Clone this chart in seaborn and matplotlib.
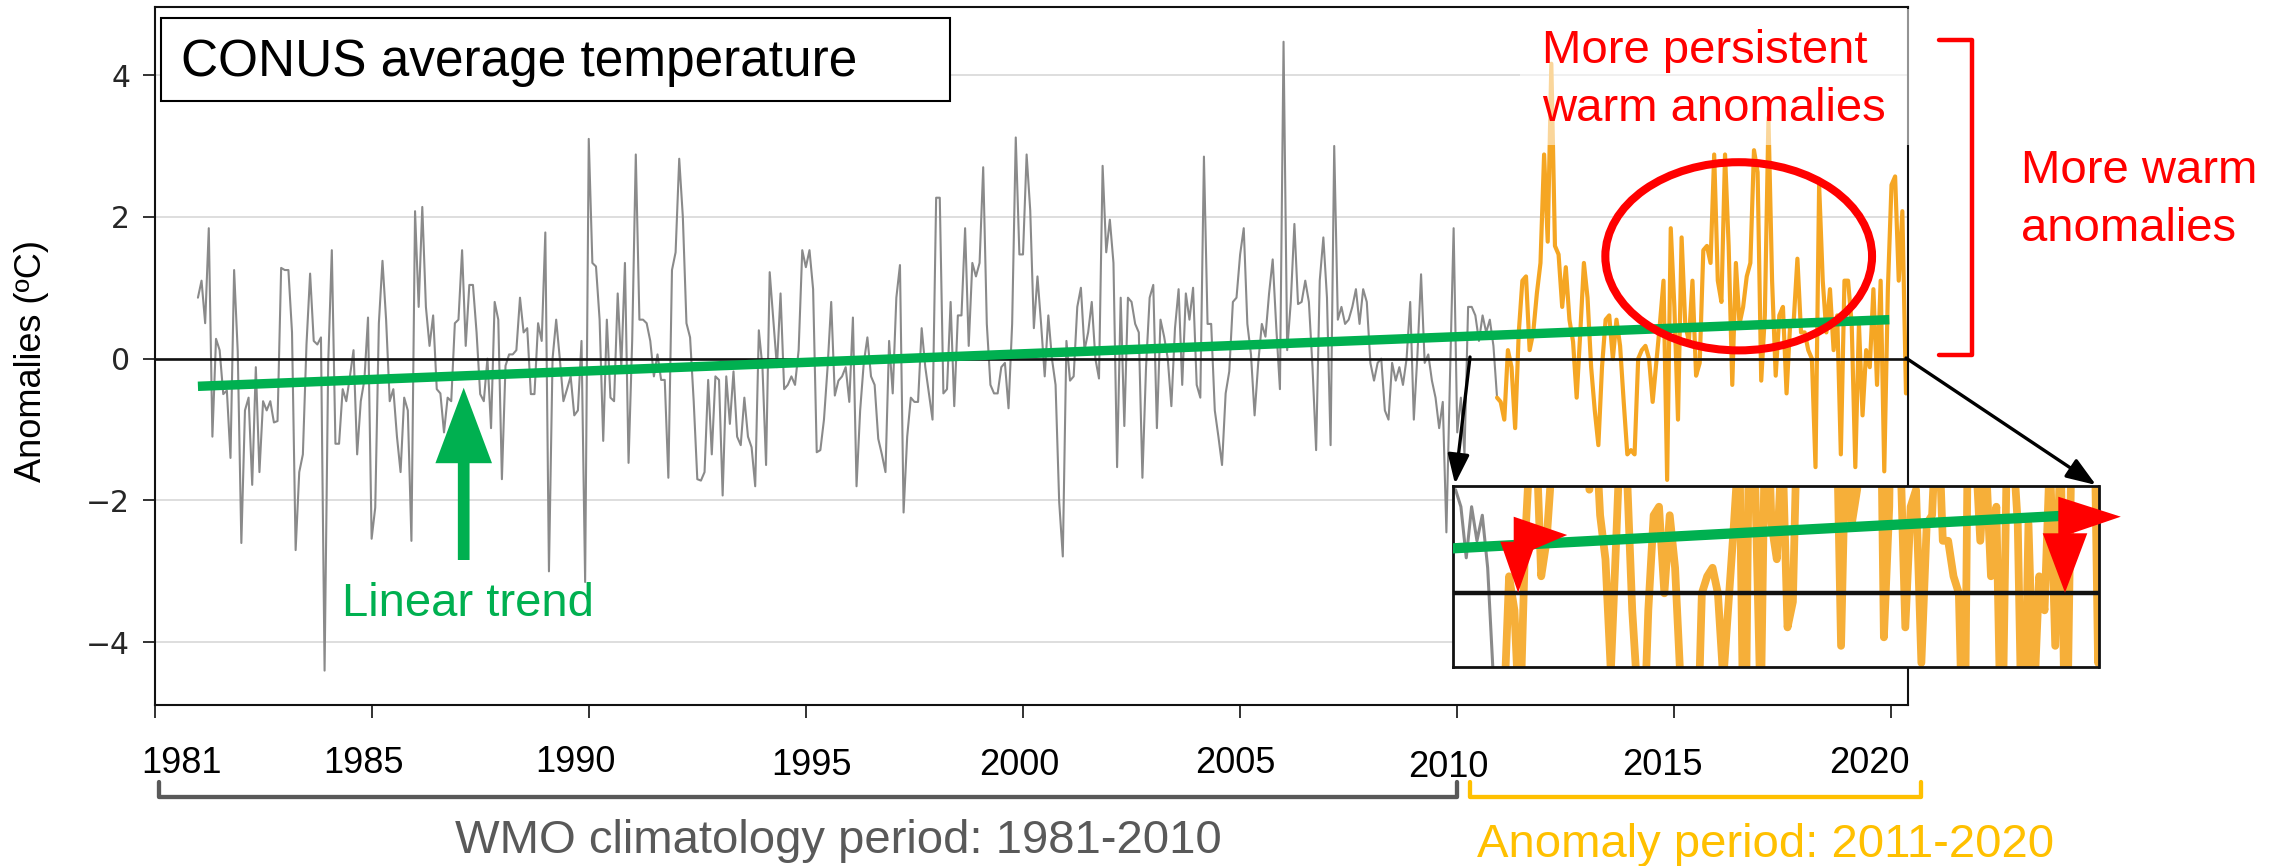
import numpy as np
import seaborn as sns
import matplotlib.pyplot as plt
from matplotlib.patches import Rectangle, Ellipse, Polygon, FancyArrow, FancyArrowPatch, ArrowStyle
from matplotlib.lines import Line2D
from matplotlib.transforms import Affine2D

# monthly CONUS temperature anomalies (degC)
# climatology period, Jan 1981 - Dec 2010
clim_vals = [
    0.86, 1.10, 0.50, 1.84, -1.10, 0.28, 0.12, -0.50, -0.45, -1.40, 1.25, 0.10,
    -2.60, -0.73, -0.55, -1.78, -0.12, -1.60, -0.60, -0.73, -0.60, -0.90, -0.88, 1.28,
    1.25, 1.25, 0.37, -2.70, -1.60, -1.35, 0.20, 1.20, 0.25, 0.20, 0.30, -4.40,
    -0.06, 1.53, -1.20, -1.20, -0.43, -0.60, -0.25, 0.12, -1.35, -0.60, -0.30, 0.58,
    -2.54, -2.10, 0.50, 1.38, 0.55, -0.60, -0.43, -1.10, -1.60, -0.55, -0.73, -2.57,
    2.08, 0.73, 2.14, 0.73, 0.18, 0.61, -0.43, -0.49, -1.04, -0.55, -0.60, 0.50,
    0.55, 1.53, 0.18, 1.04, 1.04, 0.37, -0.50, -0.60, 0.00, -0.98, 0.80, 0.55,
    -1.70, -0.10, 0.06, 0.06, 0.12, 0.86, 0.37, 0.43, -0.50, -0.50, 0.50, 0.25,
    1.78, -3.00, 0.00, 0.55, 0.00, -0.60, -0.43, -0.25, -0.80, -0.73, 0.25, -3.15,
    3.10, 1.35, 1.30, 0.55, -1.16, 0.55, -0.55, -0.60, 0.92, -0.12, 1.35, -1.47,
    0.25, 2.88, 0.55, 0.55, 0.50, 0.25, -0.25, 0.06, -0.30, -0.30, -1.68, 1.25,
    1.50, 2.82, 2.00, 0.50, 0.30, -0.60, -1.70, -1.72, -1.60, -0.30, -1.35, -0.25,
    -0.30, -1.93, -0.25, -0.92, -0.18, -1.10, -1.22, -0.55, -1.10, -1.25, -1.80, 0.40,
    -0.12, -1.50, 1.22, 0.55, -0.12, 0.92, -0.43, -0.37, -0.25, -0.37, 0.12, 1.53,
    1.29, 1.53, 0.98, -1.32, -1.29, -0.86, -0.12, 0.80, -0.52, -0.31, -0.25, -0.12,
    -0.61, 0.58, -1.80, -0.73, -0.06, 0.30, -0.25, -0.37, -1.13, -1.35, -1.60, 0.25,
    -0.49, 0.86, 1.32, -2.17, -1.10, -0.55, -0.61, -0.61, 0.43, -0.12, -0.49, -0.86,
    2.27, 2.27, -0.49, -0.43, 0.80, -0.67, 0.61, 0.61, 1.84, 0.18, 1.35, 1.16,
    1.35, 2.70, 0.49, -0.37, -0.49, -0.49, -0.12, -0.06, -0.70, 0.49, 3.12, 1.47,
    1.47, 2.88, 2.09, 0.43, 1.16, 0.49, -0.25, 0.61, 0.00, -0.37, -2.02, -2.79,
    0.25, -0.31, -0.25, 0.73, 1.00, 0.12, 0.37, 0.80, 0.00, -0.28, 2.72, 1.50,
    1.96, 1.35, -1.53, 0.86, -0.95, 0.86, 0.80, 0.49, 0.37, -1.68, -0.12, 0.86,
    1.04, -0.98, 0.55, 0.31, 0.00, -0.67, 0.43, 0.98, -0.37, 0.92, 0.55, 1.00,
    -0.37, -0.55, 2.85, 0.49, 0.49, -0.73, -1.10, -1.50, -0.49, -0.18, 0.80, 0.86,
    1.47, 1.84, 0.49, 0.06, -0.80, -0.06, 0.49, 0.31, 0.92, 1.40, 0.43, -0.43,
    4.47, 0.12, 0.80, 1.90, 0.77, 0.80, 1.10, 0.80, -0.12, -1.29, 1.10, 1.71,
    0.86, -1.22, 3.00, 0.55, 0.73, 0.49, 0.55, 0.73, 0.98, 0.49, 0.98, 0.80,
    -0.06, -0.31, -0.06, 0.00, -0.73, -0.86, -0.06, -0.31, -0.12, -0.37, 0.00, 0.80,
    -0.86, 0.06, 1.19, -0.06, 0.06, -0.31, -0.55, -0.98, -0.61, -2.45, -0.24, 1.84,
    -1.04, -0.55, -1.35, 0.73, 0.73, 0.61, 0.25, 0.61, 0.37, 0.55, 0.18, -0.55,
]
# anomaly period, Jan 2011 onwards
anom_vals = [
    -0.61, -0.86, 0.12, -0.12, -0.98, 0.37, 1.10, 1.16, 0.12, 0.37, 0.92, 1.35,
    2.88, 1.65, 4.16, 1.59, 1.47, 0.73, 1.29, 0.55, 0.24, -0.55, 0.37, 1.35,
    0.86, -0.12, -0.73, -1.22, -0.12, 0.55, 0.61, 0.00, 0.55, 0.18, -0.61, -1.35,
    -1.29, -1.35, 0.00, 0.12, 0.18, 0.00, -0.61, -0.06, 0.49, 1.10, -1.71, 1.84,
    0.73, -0.86, 1.71, 0.49, 0.24, 1.10, -0.24, -0.06, 1.53, 1.59, 1.35, 2.88,
    1.10, 0.80, 2.88, 1.59, -0.37, 1.35, 0.49, 0.73, 1.16, 1.35, 2.94, 2.63,
    -0.31, 0.61, 3.40, 1.10, -0.24, 0.61, 0.73, -0.49, 0.49, 0.55, 1.41, 0.37,
    0.37, 0.12, 0.00, -1.53, 2.45, 1.10, 0.37, 0.98, 0.12, 0.61, -1.35, 1.10,
    1.10, 0.49, -1.53, 0.49, -0.80, 0.12, -0.12, 0.98, -0.37, 1.10, -1.59, 0.98,
    2.45, 2.57, 1.10, 2.08, -0.49, 0.31, 0.61,
]
start_year = 1981
trend_years = [1981.0, 2019.95]
trend_vals = [-0.39, 0.55]

tick_years = [1980, 1985, 1990, 1995, 2000, 2005, 2010, 2015, 2020]
tick_labels = ["1981", "1985", "1990", "1995", "2000", "2005", "2010", "2015", "2020"]
ytick_vals = [-4, -2, 0, 2, 4]
ytick_labels = ["\u22124", "\u22122", "0", "2", "4"]

# colours
GRAY = "#8a8a8a"
ORANGE = "#F5A623"
GREEN = "#00B050"
RED = "#FF0000"
GOLD = "#FFC000"
DARKGRAY = "#595959"

W, H = 2276, 866

sns.set_style("white")
plt.rcParams["font.family"] = ["Liberation Sans", "DejaVu Sans"]

fig = plt.figure(figsize=(W / 100, H / 100), dpi=100)
# image-pixel coordinates (origin top-left) for the overlay annotations
px = Affine2D().scale(1 / W, -1 / H).translate(0, 1) + fig.transFigure


def fig_rect(l, t, r, b):
    return [l / W, (H - b) / H, (r - l) / W, (b - t) / H]


clim_x = start_year + np.arange(len(clim_vals)) / 12
anom_x = start_year + (len(clim_vals) + np.arange(len(anom_vals))) / 12
# orange series starts from the last climatology month so the line is continuous
anom_x_j = np.concatenate([[clim_x[-1]], anom_x])
anom_v_j = [clim_vals[-1]] + anom_vals


def draw_series(a, lw_gray, lw_orange, lw_trend, lw_zero, alpha_orange=1.0):
    sns.lineplot(x=clim_x, y=clim_vals, color=GRAY, lw=lw_gray, errorbar=None, ax=a, zorder=2)
    sns.lineplot(x=anom_x_j, y=anom_v_j, color=ORANGE, lw=lw_orange, alpha=alpha_orange,
                 errorbar=None, ax=a, zorder=2)
    a.axhline(0, color="#111111", lw=lw_zero, zorder=2.5)
    sns.lineplot(x=trend_years, y=trend_vals, color=GREEN, lw=lw_trend, errorbar=None, ax=a,
                 zorder=3, solid_capstyle="butt")


# main axes
ax = fig.add_axes(fig_rect(154.5, 7, 1908, 705))
ax.set_zorder(0)
draw_series(ax, 1.5, 3.0, 6.8, 1.9)
ax.set_xlim(1980, 2020.38)
ax.set_ylim(-4.885, 4.96)
ax.set_xticks(tick_years)
ax.set_yticks(ytick_vals, labels=ytick_labels, fontfamily="DejaVu Sans", fontsize=21.5, color="#262626")
ax.tick_params(axis="x", bottom=True, length=9.4, width=1.3, color="#222222", labelbottom=False)
ax.tick_params(axis="y", left=True, length=8.5, width=1.3, color="#222222", pad=9)
ax.grid(axis="y", color="#d4d4d4", lw=1.1, zorder=0)
ax.set_xlabel("")
ax.set_ylabel("")
for s in ax.spines.values():
    s.set_color("#111111")
    s.set_linewidth(1.5)

# tick labels placed like the reference overlay
label_px_x = [181.7, 364, 575.8, 811.8, 1019.5, 1235, 1448.8, 1662.4, 1869.2]
label_px_y = [773.3, 773.3, 771.7, 775, 775, 773.3, 776.7, 775, 772.7]
for lx, ly, lab in zip(label_px_x, label_px_y, tick_labels):
    fig.text(lx, ly, lab, transform=px, ha="center", va="baseline", fontsize=26, color="black", zorder=6)

fig.text(32, 361, "Anomalies (\u00baC)", transform=px, rotation=90, ha="center", va="center",
         fontsize=26, color="black", zorder=6)

# inset (zoom on 2011-2020 near zero)
axin = fig.add_axes(fig_rect(1453.4, 486, 2098.5, 666.7))
axin.set_zorder(1)
axin.set_facecolor("white")
draw_series(axin, 2.2, 5.6, 7.4, 3.2, alpha_orange=0.9)
axin.set_xlim(2010.30, 2020.34)
axin.set_ylim(-0.517, 0.756)
axin.set_xticks([])
axin.set_yticks([])
axin.set_xlabel("")
axin.set_ylabel("")
axin.grid(False)
for s in axin.spines.values():
    s.set_color("#111111")
    s.set_linewidth(2.0)

Z = 5

# faded band behind the "More persistent" note
fig.add_artist(Rectangle((1520, 9), 395, 136, transform=px, facecolor="white", alpha=0.55,
                         edgecolor="none", zorder=Z))

# title box
fig.add_artist(Rectangle((160.7, 17.9), 789.3, 83.6, transform=px, facecolor="white",
                         edgecolor="black", lw=1.5, zorder=Z))
fig.text(181, 76.4, "CONUS average temperature", transform=px, fontsize=37, color="black",
         va="baseline", zorder=Z + 1)

# linear trend label and arrow
fig.add_artist(FancyArrow(463.7, 560, 0, -172.3, width=11.7, head_width=56.6, head_length=75.5,
                          length_includes_head=True, color=GREEN, lw=0, transform=px, zorder=Z))
fig.text(341.7, 616.3, "Linear trend", transform=px, fontsize=34, color=GREEN, va="baseline", zorder=Z + 1)

# red notes
fig.text(1541.7, 63.4, "More persistent", transform=px, fontsize=34, color=RED, va="baseline", zorder=Z + 1)
fig.text(1541.7, 120.6, "warm anomalies", transform=px, fontsize=34, color=RED, va="baseline", zorder=Z + 1)
fig.text(2021, 183.3, "More warm", transform=px, fontsize=34, color=RED, va="baseline", zorder=Z + 1)
fig.text(2021, 240.7, "anomalies", transform=px, fontsize=34, color=RED, va="baseline", zorder=Z + 1)
fig.add_artist(Ellipse((1738.7, 256.3), 266.7, 188.2, transform=px, fill=False, edgecolor=RED,
                       lw=5.8, zorder=Z))
fig.add_artist(Line2D([1939, 1972.5, 1972.5, 1939], [40, 40, 355, 355], transform=px, color=RED,
                      lw=3.2, solid_joinstyle="round", zorder=Z))

# period brackets and labels
fig.add_artist(Line2D([159, 159, 1457.4, 1457.4], [781.7, 796.7, 796.7, 781.7], transform=px,
                      color=DARKGRAY, lw=3.1, solid_joinstyle="round", zorder=Z))
fig.add_artist(Line2D([1469.6, 1469.6, 1920.6, 1920.6], [781.7, 796.7, 796.7, 781.7], transform=px,
                      color=GOLD, lw=3.1, solid_joinstyle="round", zorder=Z))
fig.text(455, 853.3, "WMO climatology period: 1981-2010", transform=px, fontsize=34, color=DARKGRAY,
         va="baseline", zorder=Z + 1)
fig.text(1477, 856.7, "Anomaly period: 2011-2020", transform=px, fontsize=34, color=GOLD,
         va="baseline", zorder=Z + 1)

# connectors from the main axes to the inset
head = ArrowStyle("-|>", head_length=0.9, head_width=0.33)
for a, b in [((1470, 357), (1455, 484)), ((1906, 358), (2096, 485))]:
    fig.add_artist(FancyArrowPatch(a, b, arrowstyle=head, mutation_scale=20, lw=2.4, color="black",
                                   shrinkA=0, shrinkB=0, transform=px, zorder=Z))

# red arrowheads inside the inset
tri = [
    [(1513.7, 516.7), (1513.7, 558), (1567.2, 535)],
    [(1500.3, 541.7), (1536, 541.7), (1518.1, 592.7)],
    [(2058.3, 496.7), (2058.3, 538), (2120.8, 516.7)],
    [(2042.7, 533.3), (2087.3, 533.3), (2065, 592.7)],
]
for t in tri:
    fig.add_artist(Polygon(t, closed=True, transform=px, facecolor=RED, edgecolor="none", zorder=Z + 1))

fig.savefig("out.png", dpi=100)
